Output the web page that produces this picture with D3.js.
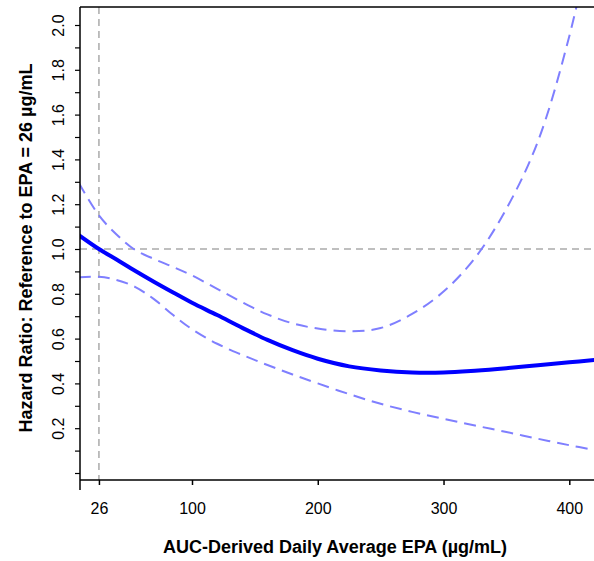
<!DOCTYPE html>
<html>
<head>
<meta charset="utf-8">
<script src="https://d3js.org/d3.v7.min.js"></script>
<style>
  body { margin: 0; background: #fff; }
  svg { display: block; font-family: "Liberation Sans", Arial, sans-serif; }
</style>
</head>
<body>
<svg id="chart"></svg>
<script>
// EPA grid (µg/mL) and hazard ratio estimates
var epa = [10, 26, 40, 55, 70, 85, 100, 120, 140, 160, 180, 200, 225, 250, 275, 300, 325, 350, 375, 400, 420];
var hr = [1.062, 1.0, 0.953, 0.902, 0.853, 0.806, 0.76, 0.705, 0.648, 0.594, 0.548, 0.51, 0.476, 0.458, 0.449, 0.449, 0.457, 0.468, 0.481, 0.494, 0.505];
var upper = [1.295, 1.15, 1.065, 0.995, 0.955, 0.92, 0.882, 0.822, 0.762, 0.708, 0.668, 0.645, 0.633, 0.647, 0.71, 0.81, 0.96, 1.18, 1.48, 1.95, 2.45];
var lower = [0.874, 0.876, 0.862, 0.83, 0.775, 0.705, 0.642, 0.577, 0.527, 0.482, 0.44, 0.40, 0.352, 0.309, 0.273, 0.242, 0.212, 0.183, 0.153, 0.124, 0.103];

var refEPA = 26, refHR = 1;
var xTicks = [26, 100, 200, 300, 400];
var yTicks = d3.range(0, 21).map(function(i) { return i / 10; });

var width = 594, height = 561;
var plotL = 80, plotT = 7, plotB = 480, plotR = 600;

var svg = d3.select("#chart").attr("width", width).attr("height", height);

var x = d3.scaleLinear().domain([100, 400]).range([192, 569.3]);
var y = d3.scaleLinear().domain([0, 2]).range([473, 25]);

svg.append("defs").append("clipPath").attr("id", "plotclip")
  .append("rect").attr("x", plotL).attr("y", plotT)
  .attr("width", plotR - plotL).attr("height", plotB - plotT);

var plot = svg.append("g").attr("clip-path", "url(#plotclip)");

// reference lines
plot.append("line")
  .attr("x1", plotL).attr("x2", plotR)
  .attr("y1", y(refHR)).attr("y2", y(refHR))
  .attr("stroke", "#aaaaaa").attr("stroke-width", 1.5).attr("stroke-dasharray", "7,5");
plot.append("line")
  .attr("x1", x(refEPA)).attr("x2", x(refEPA))
  .attr("y1", plotT).attr("y2", plotB)
  .attr("stroke", "#aaaaaa").attr("stroke-width", 1.5).attr("stroke-dasharray", "7,5");

function series(vals) {
  return epa.map(function(e, i) { return [e, vals[i]]; });
}
var line = d3.line()
  .x(function(d) { return x(d[0]); })
  .y(function(d) { return y(d[1]); })
  .curve(d3.curveCatmullRom.alpha(0.5));

[upper, lower].forEach(function(v) {
  plot.append("path")
    .attr("d", line(series(v)))
    .attr("fill", "none")
    .attr("stroke", "#7f7fff")
    .attr("stroke-width", 2)
    .attr("stroke-dasharray", "12,7");
});

plot.append("path")
  .attr("d", line(series(hr)))
  .attr("fill", "none")
  .attr("stroke", "#0000ff")
  .attr("stroke-width", 4);

// frame lines
svg.append("line").attr("x1", plotL).attr("x2", plotL).attr("y1", plotT).attr("y2", 490)
  .attr("stroke", "#000").attr("stroke-width", 1.5);
svg.append("line").attr("x1", plotL).attr("x2", plotR).attr("y1", plotT).attr("y2", plotT)
  .attr("stroke", "#000").attr("stroke-width", 1.5);

// y axis
var yAxis = svg.append("g")
  .attr("transform", "translate(" + plotL + ",0)")
  .call(d3.axisLeft(y).tickValues(yTicks).tickSize(5)
    .tickFormat(function(d) {
      var k = Math.round(d * 10);
      return (k > 0 && k % 2 === 0) ? d3.format(".1f")(d) : "";
    }));
yAxis.select(".domain").remove();
yAxis.selectAll(".tick line").attr("stroke-width", 1.2);
yAxis.selectAll("text")
  .attr("transform", "rotate(-90)")
  .attr("x", 0).attr("y", -16).attr("dy", 0)
  .attr("text-anchor", "middle")
  .attr("fill", "#000")
  .style("font-size", "16px")
  .style("font-family", "'Liberation Sans', Arial, sans-serif");

// x axis
var xAxis = svg.append("g")
  .attr("transform", "translate(0," + plotB + ")")
  .call(d3.axisBottom(x).tickValues(xTicks).tickSize(5));
xAxis.select(".domain").remove();
xAxis.append("line").attr("x1", plotL).attr("x2", plotR).attr("y1", 0).attr("y2", 0)
  .attr("stroke", "#000").attr("stroke-width", 1.5);
xAxis.selectAll(".tick line").attr("stroke-width", 1.5);
xAxis.selectAll("text")
  .attr("y", 33.5).attr("dy", 0)
  .attr("fill", "#000")
  .style("font-size", "16px")
  .style("font-family", "'Liberation Sans', Arial, sans-serif");

// axis titles
svg.append("text")
  .attr("x", 335).attr("y", 553)
  .attr("text-anchor", "middle")
  .style("font-size", "18px").style("font-weight", "bold")
  .text("AUC-Derived Daily Average EPA (µg/mL)");

svg.append("text")
  .attr("transform", "translate(31.5,248) rotate(-90)")
  .attr("text-anchor", "middle")
  .style("font-size", "18px").style("font-weight", "bold")
  .text("Hazard Ratio: Reference to EPA = 26 µg/mL");
</script>
</body>
</html>
